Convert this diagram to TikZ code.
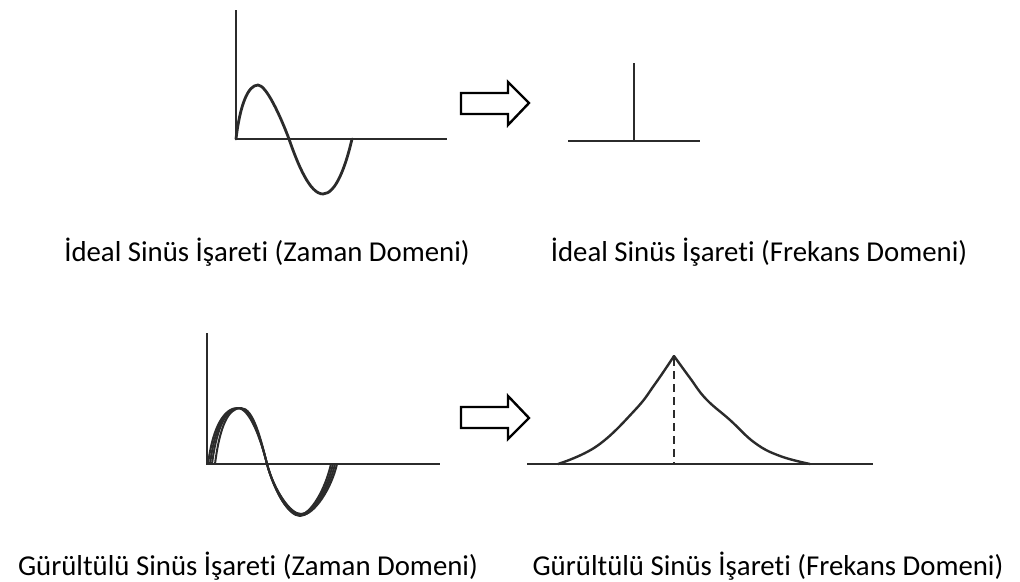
\documentclass[tikz,border=0pt]{standalone}
\usepackage{fontspec}
\setmainfont{Carlito}[Ligatures=NoCommon]
\usepackage{tikz}
\usetikzlibrary{calc}
\definecolor{plotgray}{HTML}{2B2B2B}
\tikzset{
  axisline/.style={draw=plotgray,line width=2.6pt,line cap=butt},
  wave/.style={draw=plotgray,line width=2.8pt,line cap=round,line join=round},
  blockarrow/.style={draw=black,line width=2.4pt,fill=white,line join=miter},
  caption/.style={anchor=base,inner sep=0pt,text=black,
    font=\fontsize{28.8}{34}\selectfont},
}

\begin{document}
\begin{tikzpicture}[x=1pt,y=-1pt]
  \useasboundingbox (0,0) rectangle (1020,581);

  % ideal sine, time domain
  \draw[axisline] (236,10) -- (236,139) -- (447,139);
  \draw[wave] (236,139) .. controls (240,105) and (248,85) .. (258,85)
    .. controls (266,85) and (280,115) .. (289,139)
    .. controls (298,165) and (310,194) .. (323,194)
    .. controls (336,194) and (346,165) .. (352,139);

  % arrow top
  \draw[blockarrow] (461,93) -- (508,93) -- (508,82) -- (529,103)
    -- (508,125) -- (508,114) -- (461,114) -- cycle;

  % ideal sine, frequency domain
  \draw[axisline] (568,141) -- (700,141);
  \draw[axisline] (634,63) -- (634,141);

  \node[caption] (capIdealTime) at (267,261) {İdeal Sinüs İşareti (Zaman Domeni)};
  \node[caption] (capIdealFreq) at (759,261) {İdeal Sinüs İşareti (Frekans Domeni)};

  % noisy sine, time domain
  \draw[axisline] (207,333) -- (207,464) -- (440,464);
  \foreach \a/\b/\d in {208/331/515, 210/333/516, 212/335/514, 215/337/515}{
    \draw[wave,line width=2pt] (\a,464) .. controls (\a+5,425) and ({0.5*\a+121},408) .. ({0.5*\a+133.5},408)
      .. controls ({0.5*\a+146},408) and (261,440) .. (267,464)
      .. controls (274,490) and ({0.5*\b+122},\d) .. ({0.5*\b+133.5},\d)
      .. controls ({0.5*\b+145},\d) and (\b-6,490) .. (\b,464);
  }

  % arrow bottom
  \draw[blockarrow] (461,407) -- (508,407) -- (508,396) -- (529,418)
    -- (508,439) -- (508,428) -- (461,428) -- cycle;

  % noisy sine, frequency domain
  \draw[axisline] (527,464) -- (873,464);
  \draw[wave,line width=2.4pt] plot[smooth,tension=0.7] coordinates
    {(558,464) (597,446) (635,410) (655,384) (674,356)};
  \draw[wave,line width=2.4pt] plot[smooth,tension=0.7] coordinates
    {(674,356) (690,378) (706,399) (730,420) (755,443) (780,456) (810,464)};
  \draw[axisline,dash pattern=on 8pt off 5pt] (674,358) -- (674,464);

  \node[caption] (capNoisyTime) at (248,575) {Gürültülü Sinüs İşareti (Zaman Domeni)};
  \node[caption] (capNoisyFreq) at (768,575) {Gürültülü Sinüs İşareti (Frekans Domeni)};
\end{tikzpicture}
\end{document}
